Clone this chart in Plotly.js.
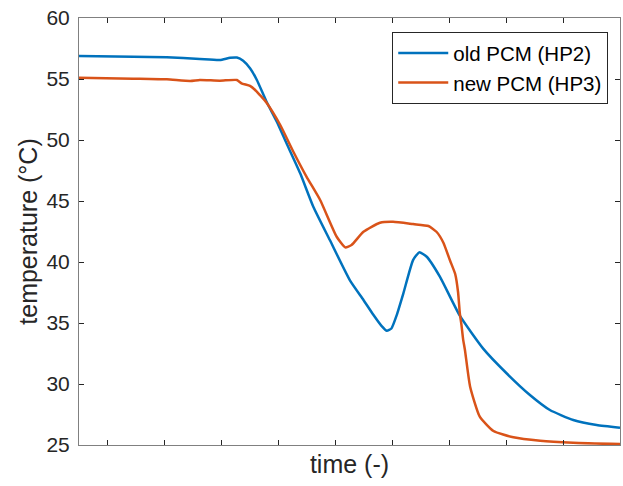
<!DOCTYPE html>
<html>
<head>
<meta charset="utf-8">
<script src="https://cdn.plot.ly/plotly-3.0.1.min.js"></script>
<style>html,body{margin:0;padding:0;background:#fff;}#chart{width:623px;height:486px;}</style>
</head>
<body>
<div id="chart"></div>
<script>
// time axis in arbitrary units (no labels shown)
const timeOld = [0, 95, 154, 212, 247, 265, 277, 288, 300, 312, 329, 347, 364, 388, 411, 440, 475, 499, 516, 531, 540, 548, 557, 569, 586, 597, 610, 633, 668, 709, 750, 791, 826, 867, 908, 949];
const tempOld = [56.89, 56.83, 56.78, 56.64, 56.56, 56.74, 56.76, 56.5, 55.88, 54.92, 53.14, 51.5, 49.73, 47.27, 44.53, 41.8, 38.52, 36.89, 35.7, 34.75, 34.37, 34.55, 35.6, 37.43, 40.16, 40.79, 40.43, 38.8, 35.6, 32.9, 30.88, 29.1, 27.87, 27.05, 26.64, 26.42];

const timeNew = [0, 95, 154, 195, 212, 247, 277, 285, 300, 309, 317, 329, 353, 376, 399, 423, 452, 467, 478, 499, 528, 551, 586, 613, 627, 639, 651, 660, 665, 668, 671, 674, 677, 686, 703, 727, 762, 809, 867, 949];
const tempNew = [55.11, 55.03, 54.97, 54.84, 54.92, 54.86, 54.92, 54.65, 54.43, 54.1, 53.7, 53.06, 51.23, 49.04, 47.0, 45.08, 42.07, 41.2, 41.39, 42.48, 43.22, 43.3, 43.11, 42.95, 42.48, 41.6, 40.1, 39.0, 37.5, 35.8, 34.8, 33.6, 32.79, 29.8, 27.32, 26.15, 25.63, 25.35, 25.19, 25.08];

const seriesNames = ["old PCM (HP2)", "new PCM (HP3)"];
const yTicks = [25, 30, 35, 40, 45, 50, 55, 60];
const xTicks = [50, 150, 250, 350, 450, 550, 650, 750, 850, 950];

const font = "Liberation Sans, Arial, Helvetica, sans-serif";
const axisColor = "#262626";

const traces = [
  {x: timeOld, y: tempOld, name: seriesNames[0], type: "scatter", mode: "lines",
   line: {color: "#0072BD", width: 2.5, shape: "spline", smoothing: 0.5}},
  {x: timeNew, y: tempNew, name: seriesNames[1], type: "scatter", mode: "lines",
   line: {color: "#D95319", width: 2.5, shape: "spline", smoothing: 0.5}}
];

const layout = {
  width: 623, height: 486,
  margin: {l: 79, r: 3, t: 18, b: 41},
  paper_bgcolor: "#fff", plot_bgcolor: "#fff",
  font: {family: font, color: axisColor},
  showlegend: true,
  legend: {
    x: 0.579, y: 0.967, xanchor: "left", yanchor: "top",
    bgcolor: "#fff", bordercolor: axisColor, borderwidth: 1,
    font: {family: font, size: 20.5, color: "#000"},
    itemwidth: 50,
    tracegroupgap: 0
  },
  xaxis: {
    range: [0, 949], tickvals: xTicks, ticktext: xTicks.map(() => ""),
    ticks: "inside", ticklen: 5, tickcolor: axisColor,
    showline: true, linecolor: "#808080", linewidth: 1, mirror: "ticks",
    showgrid: false, zeroline: false,
    title: {text: "time (-)", font: {family: font, size: 25, color: axisColor}, standoff: 8}
  },
  yaxis: {
    range: [25, 60], tickvals: yTicks,
    ticks: "inside", ticklen: 5, tickcolor: axisColor,
    showline: true, linecolor: "#808080", linewidth: 1, mirror: "ticks",
    showgrid: false, zeroline: false,
    tickfont: {family: font, size: 21, color: axisColor},
    ticklabelstandoff: 4,
    title: {text: "temperature (°C)", font: {family: font, size: 25, color: axisColor}, standoff: 1}
  }
};

Plotly.newPlot("chart", traces, layout, {displayModeBar: false, staticPlot: true});
</script>
</body>
</html>
